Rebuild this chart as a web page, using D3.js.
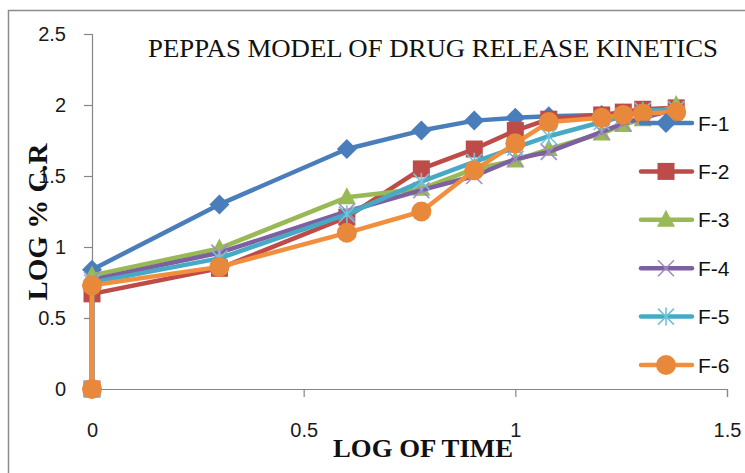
<!DOCTYPE html>
<html>
<head>
<meta charset="utf-8">
<script src="https://cdn.jsdelivr.net/npm/d3@7"></script>
<style>
  html, body { margin: 0; padding: 0; background: #fff; }
  svg { display: block; }
</style>
</head>
<body>
<svg id="chart" width="745" height="473"></svg>
<script>
// Log of time (x) for every sampling point; the first point is the origin.
const logTime = [0, 0, 0.301, 0.602, 0.778, 0.903, 1, 1.079, 1.204, 1.255, 1.301, 1.380];

// Log % cumulative release for each formulation
const seriesNames = ["F-1", "F-2", "F-3", "F-4", "F-5", "F-6"];
const f1 = [0, 0.84, 1.30, 1.69, 1.82, 1.89, 1.91, 1.92, 1.93, 1.94, 1.94, 1.95];
const f2 = [0, 0.67, 0.85, 1.21, 1.55, 1.69, 1.82, 1.90, 1.93, 1.95, 1.97, 1.98];
const f3 = [0, 0.80, 0.99, 1.35, 1.41, 1.55, 1.61, 1.69, 1.80, 1.86, 1.90, 2.00];
const f4 = [0, 0.77, 0.96, 1.25, 1.40, 1.50, 1.62, 1.67, 1.81, 1.87, 1.91, 1.97];
const f5 = [0, 0.75, 0.92, 1.23, 1.46, 1.60, 1.70, 1.78, 1.88, 1.92, 1.96, 1.97];
const f6 = [0, 0.73, 0.86, 1.10, 1.25, 1.54, 1.73, 1.88, 1.91, 1.93, 1.94, 1.95];
const seriesValues = [f1, f2, f3, f4, f5, f6];

const xTicks = [0, 0.5, 1, 1.5];
const yTicks = [0, 0.5, 1, 1.5, 2, 2.5];

const titleText = "PEPPAS MODEL OF DRUG RELEASE KINETICS";
const xTitle = "LOG OF TIME";
const yTitle = "LOG % C.R";

const lineColors = ["#4A7EBB", "#BE4B48", "#98B954", "#7D60A0", "#46AAC5", "#F28F3F"];
const markerColors = ["#4A7EBB", "#BE4B48", "#98B954", "#A18DC4", "#72C2DA", "#E8883A"];
const markerTypes = ["diamond", "square", "triangle", "x", "star", "circle"];

const svg = d3.select("#chart");

// chart area frame
svg.append("rect")
  .attr("x", 8.5).attr("y", 10.5)
  .attr("width", 760).attr("height", 480)
  .attr("fill", "#fff")
  .attr("stroke", "#8c8c8c").attr("stroke-width", 1.5);

const x = d3.scaleLinear().domain([0, 1.5]).range([92, 727]);
const y = d3.scaleLinear().domain([0, 2.5]).range([389, 34]);

const axisColor = "#868686";
const tickFont = "'Liberation Sans', Arial, sans-serif";

// y axis
const yAxis = svg.append("g").attr("transform", `translate(${x(0)},0)`)
  .call(d3.axisLeft(y).tickValues(yTicks).tickSize(8).tickPadding(18)
    .tickFormat(d3.format("")));
yAxis.select(".domain").attr("stroke", axisColor).attr("stroke-width", 1.2);
yAxis.selectAll(".tick line").attr("stroke", axisColor).attr("stroke-width", 1.2);
yAxis.selectAll(".tick text")
  .attr("font-family", tickFont).attr("font-size", 20).attr("fill", "#1a1a1a");

// x axis
const xAxis = svg.append("g").attr("transform", `translate(0,${y(0)})`)
  .call(d3.axisBottom(x).tickValues(xTicks).tickSize(8).tickPadding(26)
    .tickFormat(d3.format("")));
xAxis.select(".domain").attr("stroke", axisColor).attr("stroke-width", 1.2);
xAxis.selectAll(".tick line").attr("stroke", axisColor).attr("stroke-width", 1.2);
xAxis.selectAll(".tick text")
  .attr("font-family", tickFont).attr("font-size", 20).attr("fill", "#1a1a1a");

// marker drawing
function drawMarker(g, type, cx, cy, color) {
  if (type === "circle") {
    g.append("circle").attr("cx", cx).attr("cy", cy).attr("r", 10).attr("fill", color);
  } else if (type === "diamond") {
    const r = 10;
    g.append("path").attr("d", `M${cx},${cy - r}L${cx + r},${cy}L${cx},${cy + r}L${cx - r},${cy}Z`)
      .attr("fill", color);
  } else if (type === "square") {
    g.append("rect").attr("x", cx - 8.5).attr("y", cy - 8.5)
      .attr("width", 17).attr("height", 17).attr("fill", color);
  } else if (type === "triangle") {
    g.append("path").attr("d", `M${cx},${cy - 10}L${cx + 9},${cy + 7}L${cx - 9},${cy + 7}Z`)
      .attr("fill", color);
  } else if (type === "x") {
    const r = 8;
    g.append("path").attr("d", `M${cx - r},${cy - r}L${cx + r},${cy + r}M${cx - r},${cy + r}L${cx + r},${cy - r}`)
      .attr("stroke", color).attr("stroke-width", 1.6).attr("fill", "none");
  } else if (type === "star") {
    const r = 8;
    g.append("path").attr("d",
      `M${cx - r},${cy - r}L${cx + r},${cy + r}M${cx - r},${cy + r}L${cx + r},${cy - r}M${cx},${cy - r - 1}L${cx},${cy + r + 1}`)
      .attr("stroke", color).attr("stroke-width", 1.6).attr("fill", "none");
  }
}

const line = d3.line().x(d => x(d[0])).y(d => y(d[1]));

seriesValues.forEach((vals, i) => {
  const pts = vals.map((v, j) => [logTime[j], v]);
  const g = svg.append("g").attr("class", "series");
  g.append("path").datum(pts).attr("d", line)
    .attr("fill", "none").attr("stroke", lineColors[i])
    .attr("stroke-width", 4.5).attr("stroke-linejoin", "round").attr("stroke-linecap", "round");
  pts.forEach(p => drawMarker(g, markerTypes[i], x(p[0]), y(p[1]), markerColors[i]));
});

// legend
const legendY = d3.scalePoint().domain(seriesNames).range([123, 365]);
seriesNames.forEach((name, i) => {
  const ly = legendY(name);
  const g = svg.append("g").attr("class", "legend-item");
  g.append("line").attr("x1", 641).attr("x2", 692).attr("y1", ly).attr("y2", ly)
    .attr("stroke", lineColors[i]).attr("stroke-width", 4.5).attr("stroke-linecap", "round");
  drawMarker(g, markerTypes[i], 666, ly, markerColors[i]);
  g.append("text").attr("x", 698).attr("y", ly).attr("dy", "0.36em")
    .attr("font-family", tickFont).attr("font-size", 21).attr("fill", "#111")
    .text(name);
});

// titles
const serif = "'Liberation Serif', 'Times New Roman', serif";
svg.append("text").attr("x", 148).attr("y", 57)
  .attr("font-family", serif).attr("font-size", 25).attr("fill", "#111")
  .attr("textLength", 570).attr("lengthAdjust", "spacingAndGlyphs")
  .text(titleText);

svg.append("text").attr("x", 333).attr("y", 457)
  .attr("font-family", serif).attr("font-size", 26).attr("font-weight", "bold").attr("fill", "#111")
  .attr("textLength", 180).attr("lengthAdjust", "spacingAndGlyphs")
  .text(xTitle);

svg.append("text")
  .attr("transform", "translate(47,222) rotate(-90)")
  .attr("text-anchor", "middle")
  .attr("font-family", serif).attr("font-size", 27).attr("font-weight", "bold").attr("fill", "#111")
  .attr("textLength", 157).attr("lengthAdjust", "spacingAndGlyphs")
  .text(yTitle);
</script>
</body>
</html>
